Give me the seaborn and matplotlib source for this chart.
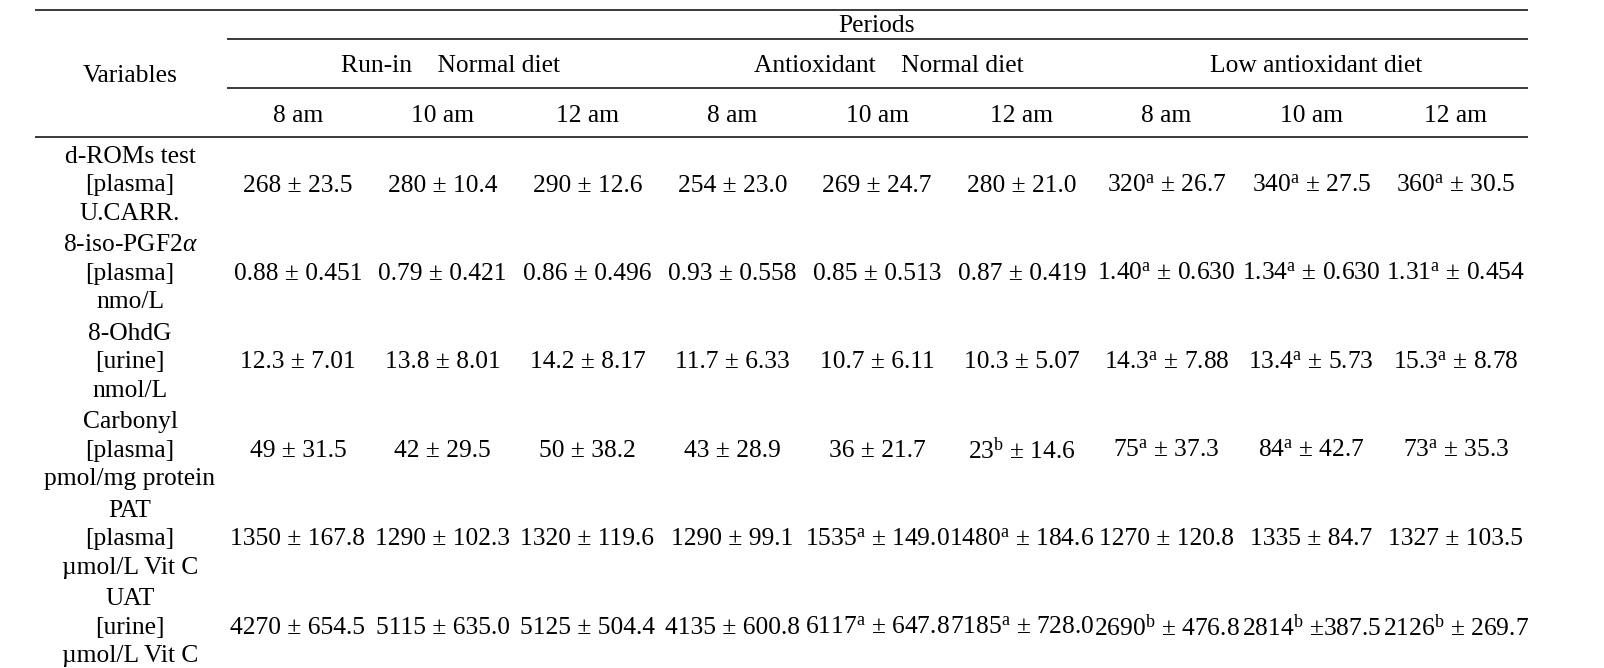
import numpy as np
import seaborn as sns
import matplotlib
matplotlib.use('Agg')
from matplotlib import pyplot as plt

sns.set_theme(style='white')
plt.rcParams['font.family'] = ['Liberation Serif', 'DejaVu Serif']
plt.rcParams['mathtext.fontset'] = 'custom'
plt.rcParams['mathtext.rm'] = 'Liberation Serif'
plt.rcParams['mathtext.it'] = 'Liberation Serif:italic'

# ---- table content ----
periods = ['Run-in    Normal diet', 'Antioxidant    Normal diet', 'Low antioxidant diet']
times = ['8 am', '10 am', '12 am']

variables = [
    ['d-ROMs test', '[plasma]', 'U.CARR.'],
    ['8-iso-PGF2$\\alpha$', '[plasma]', 'nmo/L'],
    ['8-OhdG', '[urine]', 'nmol/L'],
    ['Carbonyl', '[plasma]', 'pmol/mg protein'],
    ['PAT', '[plasma]', '\u00b5mol/L Vit C'],
    ['UAT', '[urine]', '\u00b5mol/L Vit C'],
]

drom_mean = ['268', '280', '290', '254', '269', '280', '320', '340', '360']
drom_sd = ['± 23.5', '± 10.4', '± 12.6', '± 23.0', '± 24.7', '± 21.0', '± 26.7', '± 27.5', '± 30.5']
drom_sig = ['', '', '', '', '', '', 'a', 'a', 'a']

iso_mean = ['0.88', '0.79', '0.86', '0.93', '0.85', '0.87', '1.40', '1.34', '1.31']
iso_sd = ['± 0.451', '± 0.421', '± 0.496', '± 0.558', '± 0.513', '± 0.419', '± 0.630', '± 0.630', '± 0.454']
iso_sig = ['', '', '', '', '', '', 'a', 'a', 'a']

ohdg_mean = ['12.3', '13.8', '14.2', '11.7', '10.7', '10.3', '14.3', '13.4', '15.3']
ohdg_sd = ['± 7.01', '± 8.01', '± 8.17', '± 6.33', '± 6.11', '± 5.07', '± 7.88', '± 5.73', '± 8.78']
ohdg_sig = ['', '', '', '', '', '', 'a', 'a', 'a']

carb_mean = ['49', '42', '50', '43', '36', '23', '75', '84', '73']
carb_sd = ['± 31.5', '± 29.5', '± 38.2', '± 28.9', '± 21.7', '± 14.6', '± 37.3', '± 42.7', '± 35.3']
carb_sig = ['', '', '', '', '', 'b', 'a', 'a', 'a']

pat_mean = ['1350', '1290', '1320', '1290', '1535', '1480', '1270', '1335', '1327']
pat_sd = ['± 167.8', '± 102.3', '± 119.6', '± 99.1', '± 149.0', '± 184.6', '± 120.8', '± 84.7', '± 103.5']
pat_sig = ['', '', '', '', 'a', 'a', '', '', '']

uat_mean = ['4270', '5115', '5125', '4135', '6117', '7185', '2690', '2814', '2126']
uat_sd = ['± 654.5', '± 635.0', '± 504.4', '± 600.8', '± 647.8', '± 728.0', '± 476.8', '±387.5', '± 269.7']
uat_sig = ['', '', '', '', 'a', 'a', 'b', 'b', 'b']

rows = [
    (drom_mean, drom_sd, drom_sig),
    (iso_mean, iso_sd, iso_sig),
    (ohdg_mean, ohdg_sd, ohdg_sig),
    (carb_mean, carb_sd, carb_sig),
    (pat_mean, pat_sd, pat_sig),
    (uat_mean, uat_sd, uat_sig),
]


def cell_text(mean, sd, sig):
    if sig:
        return mean + '$^{\\mathrm{' + sig + '}}$ ' + sd
    return mean + ' ' + sd


# ---- layout (pixel coordinates) ----
fs = 18.4
var_x = 130
col_x = 298 + 144.75 * np.arange(9)
row_y = 183 + 88.4 * np.arange(len(rows))
sub_gap = 28.5
group_shift = [8, 12, 5]

fig = plt.figure(figsize=(16.04, 6.68), dpi=100)
ax = fig.add_axes([0, 0, 1, 1])
ax.set_xlim(0, 1604)
ax.set_ylim(668, 0)
ax.axis('off')

rule = dict(color='#3a3a3a', linewidth=1.4)
ax.hlines(10, 35, 1528, **rule)
ax.hlines(39, 227, 1528, **rule)
ax.hlines(88, 227, 1528, **rule)
ax.hlines(137, 35, 1528, **rule)

txt = dict(ha='center', va='center_baseline', fontsize=fs, color='black')
ax.text(col_x[4], 24, 'Periods', **txt)
ax.text(var_x, 73, 'Variables', **txt)
for g, name in enumerate(periods):
    ax.text(col_x[3 * g + 1] + group_shift[g], 63, name, **txt)
    for k, t in enumerate(times):
        ax.text(col_x[3 * g + k], 113, t, **txt)

for r, (mean, sd, sig) in enumerate(rows):
    y = row_y[r]
    for j, line in enumerate(variables[r]):
        ax.text(var_x, y + (j - 1) * sub_gap, line, **txt)
    for c in range(9):
        ax.text(col_x[c], y, cell_text(mean[c], sd[c], sig[c]), **txt)

fig.savefig('out.png', dpi=100, facecolor='white')
